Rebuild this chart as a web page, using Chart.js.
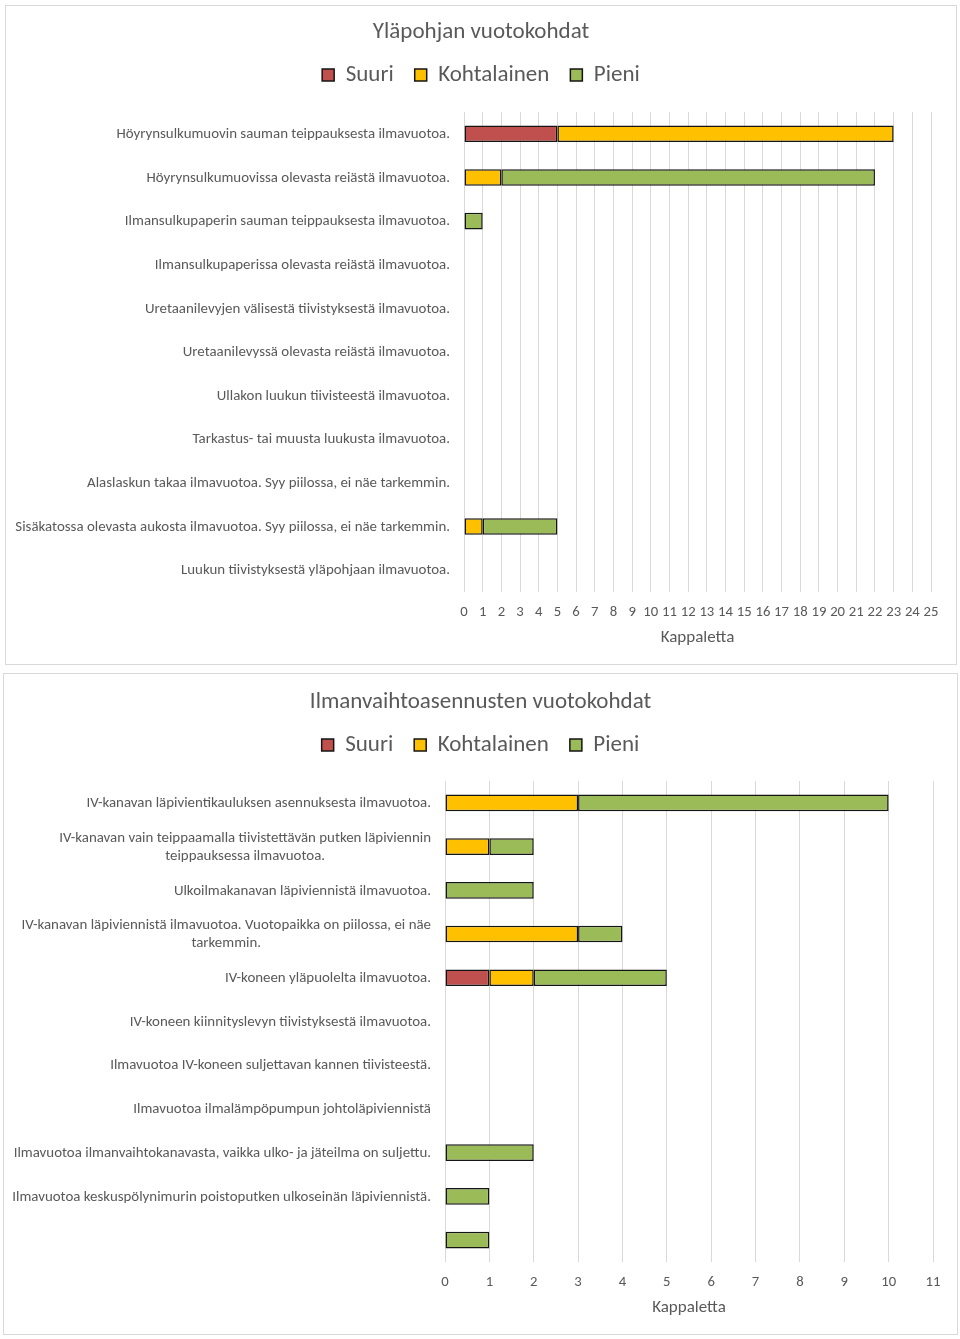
<!DOCTYPE html>
<html><head><meta charset="utf-8">
<script src="https://cdn.jsdelivr.net/npm/chart.js@4.4.0/dist/chart.umd.min.js"></script>
<style>
html,body{margin:0;padding:0;background:#fff;}
body{width:960px;height:1339px;position:relative;overflow:hidden;}
.box{position:absolute;border:1px solid #d9d9d9;box-sizing:border-box;background:#fff;}
.box canvas{display:block;}
</style></head><body>
<div class="box" style="left:5px;top:5px;width:952px;height:660px;"><canvas id="c1"></canvas></div>
<div class="box" style="left:3px;top:673px;width:955px;height:662px;"><canvas id="c2"></canvas></div>
<script>
// ---------- DATA ----------
const seriesNames = ["Suuri", "Kohtalainen", "Pieni"];

const topTitle = "Yläpohjan vuotokohdat";
const topCategories = [
  "Höyrynsulkumuovin sauman teippauksesta ilmavuotoa.",
  "Höyrynsulkumuovissa olevasta reiästä ilmavuotoa.",
  "Ilmansulkupaperin sauman teippauksesta ilmavuotoa.",
  "Ilmansulkupaperissa olevasta reiästä ilmavuotoa.",
  "Uretaanilevyjen välisestä tiivistyksestä ilmavuotoa.",
  "Uretaanilevyssä olevasta reiästä ilmavuotoa.",
  "Ullakon luukun tiivisteestä ilmavuotoa.",
  "Tarkastus- tai muusta luukusta ilmavuotoa.",
  "Alaslaskun takaa ilmavuotoa. Syy piilossa, ei näe tarkemmin.",
  "Sisäkatossa olevasta aukosta ilmavuotoa. Syy piilossa, ei näe tarkemmin.",
  "Luukun tiivistyksestä yläpohjaan ilmavuotoa."
];
const topSuuri       = [5, 0, 0, 0, 0, 0, 0, 0, 0, 0, 0];
const topKohtalainen = [18, 2, 0, 0, 0, 0, 0, 0, 0, 1, 0];
const topPieni       = [0, 20, 1, 0, 0, 0, 0, 0, 0, 4, 0];
const topXTicksMax = 25;

const bottomTitle = "Ilmanvaihtoasennusten vuotokohdat";
const bottomCategories = [
  ["IV-kanavan läpivientikauluksen asennuksesta ilmavuotoa."],
  ["IV-kanavan vain teippaamalla tiivistettävän putken läpiviennin", "teippauksessa ilmavuotoa."],
  ["Ulkoilmakanavan läpiviennistä ilmavuotoa."],
  ["IV-kanavan läpiviennistä ilmavuotoa. Vuotopaikka on piilossa, ei näe", "tarkemmin."],
  ["IV-koneen yläpuolelta ilmavuotoa."],
  ["IV-koneen kiinnityslevyn tiivistyksestä ilmavuotoa."],
  ["Ilmavuotoa IV-koneen suljettavan kannen tiivisteestä."],
  ["Ilmavuotoa ilmalämpöpumpun johtoläpiviennistä"],
  ["Ilmavuotoa ilmanvaihtokanavasta, vaikka ulko- ja jäteilma on suljettu."],
  ["Ilmavuotoa keskuspölynimurin poistoputken ulkoseinän läpiviennistä."],
  [""]
];
const bottomSuuri       = [0, 0, 0, 0, 1, 0, 0, 0, 0, 0, 0];
const bottomKohtalainen = [3, 1, 0, 3, 1, 0, 0, 0, 0, 0, 0];
const bottomPieni       = [7, 1, 2, 1, 3, 0, 0, 0, 2, 1, 1];
const bottomXTicksMax = 11;
const xAxisTitle = "Kappaletta";

// ---------- STYLE ----------
const FONT = "Carlito, Calibri, Lato, 'Open Sans', sans-serif";
const TEXT = "#595959";
const COLORS = ["#C0504D", "#FFC000", "#9BBB59"];
Chart.defaults.font.family = FONT;
Chart.defaults.color = TEXT;

const yLabelPlugin = {
  id: 'yLabels',
  afterDraw(chart, args, opts) {
    const ctx = chart.ctx, ys = chart.scales.y, area = chart.chartArea;
    ctx.save();
    ctx.font = opts.size + 'px ' + FONT;
    ctx.fillStyle = TEXT;
    ctx.textBaseline = 'middle';
    ctx.textAlign = 'center';
    chart.data.labels.forEach((lab, i) => {
      const lines = Array.isArray(lab) ? lab : [lab];
      const w = Math.max(...lines.map(l => ctx.measureText(l).width));
      const cx = area.left - opts.gap - w / 2;
      const y = ys.getPixelForValue(i) + 0.5;
      lines.forEach((l, j) => ctx.fillText(l, cx, y + (j - (lines.length - 1) / 2) * opts.lineHeight));
    });
    ctx.restore();
  }
};

function makeChart(id, w, h, title, labels, s, k, p, xmax, d) {
  const cv = document.getElementById(id);
  cv.width = w; cv.height = h; cv.style.width = w + 'px'; cv.style.height = h + 'px';
  const ds = (name, data, color) => ({
    label: name, data, backgroundColor: color, borderColor: '#141414',
    borderWidth: 1.5, borderSkipped: false,
    barPercentage: 0.38, categoryPercentage: 1.0
  });
  return new Chart(cv, {
    type: 'bar',
    data: {
      labels,
      datasets: [ds(seriesNames[0], s, COLORS[0]), ds(seriesNames[1], k, COLORS[1]), ds(seriesNames[2], p, COLORS[2])]
    },
    plugins: [yLabelPlugin],
    options: {
      responsive: false, animation: false, indexAxis: 'y',
      layout: { padding: { left: d.side, right: d.side, top: 0, bottom: 0 } },
      plugins: {
        title: { display: true, text: title, color: TEXT, font: { size: 23, weight: 'normal' }, padding: { top: d.titleTop, bottom: -3.3 } },
        legend: {
          display: true, weight: 1800,
          labels: { color: TEXT, font: { size: 23 }, boxWidth: 12, boxHeight: 12, padding: 21 }
        },
        subtitle: { display: true, text: ' ', font: { size: 1 }, padding: { top: 0, bottom: d.spacer } },
        tooltip: { enabled: false },
        yLabels: { size: 14.9, gap: 14, lineHeight: 18 }
      },
      scales: {
        x: {
          stacked: true, min: 0, max: xmax,
          grid: { color: '#d9d9d9', lineWidth: 1, drawTicks: false },
          border: { display: false },
          ticks: { stepSize: 1, autoSkip: false, maxRotation: 0, color: TEXT, font: { size: 14.7 }, padding: 12 },
          title: { display: true, text: xAxisTitle, color: TEXT, font: { size: 17 }, padding: { top: 0, bottom: 16.5 } },
          afterFit: sc => { sc.height = d.bottom; }
        },
        y: {
          stacked: true,
          grid: { display: false, drawTicks: false },
          border: { display: false },
          ticks: { display: false },
          afterFit: sc => { sc.width = d.left; }
        }
      }
    }
  });
}

makeChart('c1', 950, 658, topTitle, topCategories, topSuuri, topKohtalainen, topPieni, topXTicksMax,
  { side: 25, left: 433, titleTop: 12.2, spacer: 14.3, bottom: 72 });
makeChart('c2', 953, 660, bottomTitle, bottomCategories, bottomSuuri, bottomKohtalainen, bottomPieni, bottomXTicksMax,
  { side: 24, left: 417, titleTop: 14.2, spacer: 13.3, bottom: 72 });
</script>
</body></html>
